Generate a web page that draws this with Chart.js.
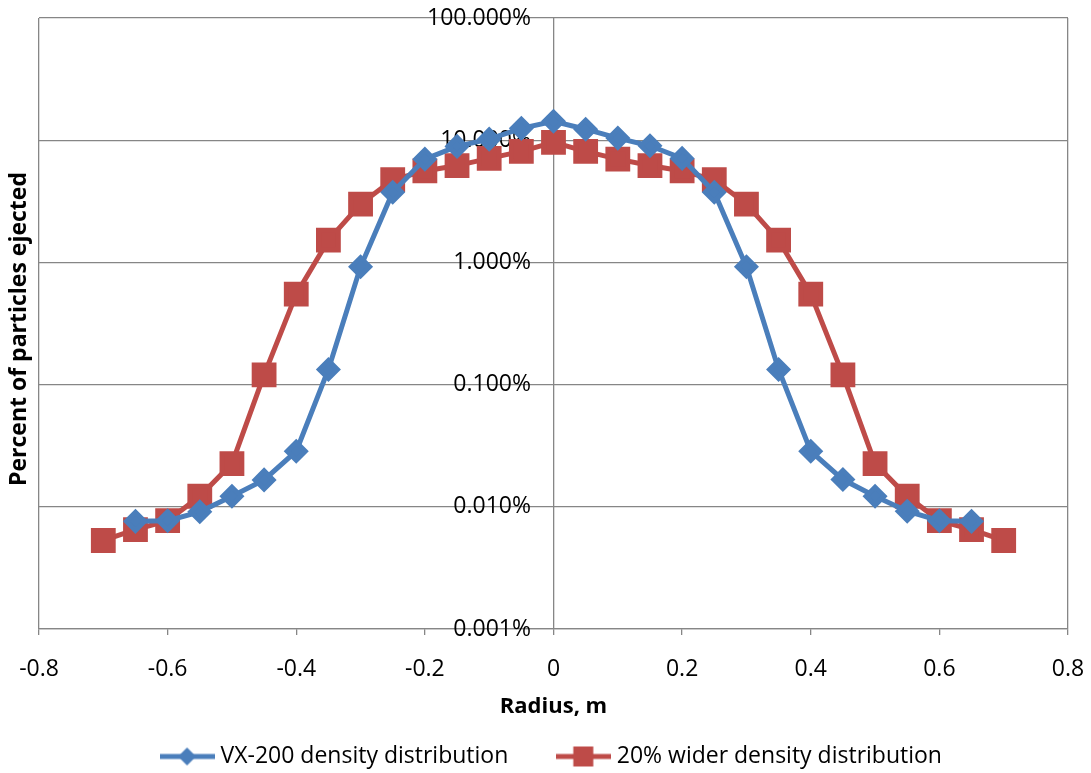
<!DOCTYPE html>
<html>
<head>
<meta charset="utf-8">
<script src="https://cdn.jsdelivr.net/npm/chart.js@4.4.0/dist/chart.umd.min.js"></script>
<style>
  html, body { margin: 0; padding: 0; background: #fff; }
  #wrap { width: 1091px; height: 773px; }
</style>
</head>
<body>
<div id="wrap"><canvas id="myChart"></canvas></div>
<script>
// radius (m) and percent of particles ejected
var radiusVX = [-0.65, -0.6, -0.55, -0.5, -0.45, -0.4, -0.35, -0.3, -0.25, -0.2, -0.15, -0.1, -0.05, 0,
                0.05, 0.1, 0.15, 0.2, 0.25, 0.3, 0.35, 0.4, 0.45, 0.5, 0.55, 0.6, 0.65];
var vx200 = [0.0076, 0.0077, 0.0091, 0.0122, 0.0166, 0.0285, 0.133, 0.92, 3.75, 7.0, 8.9, 10.2, 12.5, 14.3,
             12.3, 10.4, 9.0, 7.1, 3.75, 0.92, 0.133, 0.0285, 0.0167, 0.0122, 0.0092, 0.0077, 0.0076];

var radiusWide = [-0.7, -0.65, -0.6, -0.55, -0.5, -0.45, -0.4, -0.35, -0.3, -0.25, -0.2, -0.15, -0.1, -0.05, 0,
                  0.05, 0.1, 0.15, 0.2, 0.25, 0.3, 0.35, 0.4, 0.45, 0.5, 0.55, 0.6, 0.65, 0.7];
var wider = [0.0053, 0.0065, 0.0077, 0.0122, 0.0226, 0.12, 0.55, 1.52, 3.0, 4.75, 5.6, 6.2, 7.1, 8.1, 9.6,
             8.1, 7.0, 6.2, 5.6, 4.75, 3.0, 1.52, 0.55, 0.12, 0.0226, 0.0122, 0.0077, 0.0065, 0.0053];

var xTicks = [-0.8, -0.6, -0.4, -0.2, 0, 0.2, 0.4, 0.6, 0.8];
var yTicks = [0.001, 0.01, 0.1, 1, 10, 100];

var blue = '#4A7EBB';
var red = '#BE4B48';
var gridGray = '#868686';
var textFont = '"Open Sans", "Noto Sans", sans-serif';

function zip(xs, ys) {
  var out = [];
  for (var i = 0; i < xs.length; i++) out.push({ x: xs[i], y: ys[i] });
  return out;
}

// legend picture: short line with its marker in the middle
function legendIcon(color, style) {
  var c = document.createElement('canvas');
  c.width = 55; c.height = 24;
  var g = c.getContext('2d');
  g.strokeStyle = color; g.lineWidth = 5;
  g.beginPath(); g.moveTo(0, 12); g.lineTo(55, 12); g.stroke();
  g.fillStyle = color;
  g.beginPath();
  if (style === 'diamond') {
    g.moveTo(27.5, 3); g.lineTo(36.5, 12); g.lineTo(27.5, 21); g.lineTo(18.5, 12);
  } else {
    g.rect(17.5, 2, 20, 20);
  }
  g.fill();
  return c;
}

var yTitle = {
  id: 'yTitle',
  afterDraw: function (chart) {
    var ctx = chart.ctx;
    ctx.save();
    ctx.translate(19, 329);
    ctx.rotate(-Math.PI / 2);
    ctx.font = 'bold 23px ' + textFont;
    ctx.fillStyle = '#000';
    ctx.textAlign = 'center';
    ctx.textBaseline = 'middle';
    ctx.fillText('Percent of particles ejected', 0, 0);
    ctx.restore();
  }
};

var ctx = document.getElementById('myChart');

var myChart = new Chart(ctx, {
  type: 'line',
  data: {
    datasets: [
      {
        label: 'VX-200 density distribution',
        data: zip(radiusVX, vx200),
        borderColor: blue,
        backgroundColor: blue,
        borderWidth: 5,
        pointStyle: 'rectRot',
        pointRadius: 9,
        pointHoverRadius: 9,
        tension: 0
      },
      {
        label: '20% wider density distribution',
        data: zip(radiusWide, wider),
        borderColor: red,
        backgroundColor: red,
        borderWidth: 5,
        pointStyle: 'rect',
        pointRadius: 14,
        pointHoverRadius: 14,
        tension: 0
      }
    ]
  },
  options: {
    responsive: true,
    maintainAspectRatio: false,
    animation: false,
    layout: { autoPadding: false, padding: { left: 39, right: 23, top: 18, bottom: -5 } },
    plugins: {
      tooltip: { enabled: false },
      legend: {
        position: 'bottom',
        labels: {
          usePointStyle: true,
          pointStyleWidth: 44,
          font: { family: textFont, size: 23 },
          color: '#000',
          padding: 53,
          generateLabels: function (chart) {
            return chart.data.datasets.map(function (ds, i) {
              return {
                text: ds.label,
                pointStyle: legendIcon(ds.borderColor, i === 0 ? 'diamond' : 'square'),
                fillStyle: ds.borderColor,
                strokeStyle: ds.borderColor,
                lineWidth: 0,
                datasetIndex: i
              };
            });
          }
        }
      }
    },
    scales: {
      x: {
        type: 'linear',
        min: -0.8,
        max: 0.8,
        afterBuildTicks: function (axis) {
          axis.ticks = xTicks.map(function (v) { return { value: v }; });
        },
        afterFit: function (axis) {
          axis.paddingLeft = 0;
          axis.paddingRight = 0;
        },
        ticks: {
          color: '#000',
          font: { family: textFont, size: 23 },
          padding: 21,
          maxRotation: 0,
          callback: function (v) { return String(Math.round(v * 10) / 10); }
        },
        grid: {
          color: function (c) {
            var v = c.tick ? c.tick.value : 0;
            return (Math.abs(v) > 0.79 || Math.abs(v) < 1e-9) ? gridGray : 'rgba(0,0,0,0)';
          },
          tickColor: gridGray,
          tickLength: 6,
          lineWidth: 1.3
        },
        border: { color: gridGray, width: 1.3 },
        title: {
          display: true,
          text: 'Radius, m',
          color: '#000',
          font: { family: textFont, size: 22, weight: 'bold' },
          padding: { top: -11, bottom: -28 }
        }
      },
      y: {
        type: 'logarithmic',
        position: { x: -0.035 },
        min: 0.001,
        max: 100,
        afterBuildTicks: function (axis) {
          axis.ticks = yTicks.map(function (v) { return { value: v }; });
        },
        ticks: {
          color: '#000',
          font: { family: textFont, size: 23 },
          callback: function (v) { return Number(v).toFixed(3) + '%'; }
        },
        grid: { color: gridGray, lineWidth: 1.3, drawTicks: false },
        border: { display: false }
      }
    }
  },
  plugins: [yTitle]
});
</script>
</body>
</html>
